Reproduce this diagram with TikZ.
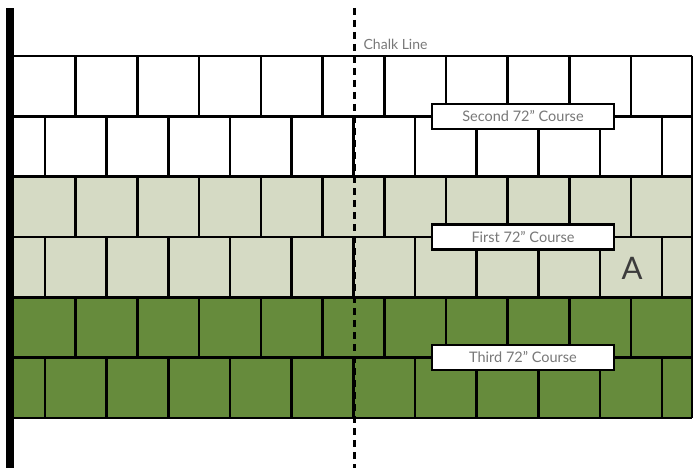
\documentclass[tikz,border=0pt]{standalone}
\usepackage{fontspec}
\setmainfont{Lato}
\usepackage{tikz}
\usetikzlibrary{calc, positioning}
\definecolor{sage}{RGB}{213,218,196}
\definecolor{moss}{RGB}{102,139,60}
\definecolor{labelgray}{RGB}{120,120,120}
\definecolor{agray}{RGB}{60,60,60}

\begin{document}
\begin{tikzpicture}[x=1pt, y=-1pt, line width=2.6pt,
    course/.style={draw=black, line width=2.8pt, fill=white, minimum width=182pt,
        minimum height=25pt, inner sep=0pt, text=labelgray, font=\fontsize{14.5}{16}\selectfont}]
    \useasboundingbox (0,0) rectangle (693,468);

    \coordinate (C1) at (354, 8);
    \coordinate (C2) at (354, 468);
    \coordinate (W1) at (6, 8);
    \coordinate (W2) at (14, 468);

    % the six rows of tiles
    \foreach \r/\c in {0/white, 1/white, 2/sage, 3/sage, 4/moss, 5/moss}
        \fill[\c] (14, 56+60.3*\r) rectangle (692, 56+60.3*\r+60.3);
    \foreach \r in {0,...,6}
        \draw (14, 56+60.3*\r) -- (692, 56+60.3*\r);
    \draw (692, 56) -- (692, 417.8);

    \foreach \r in {0, 2, 4}
        \foreach \k in {1,...,10}
            \draw (14+61.7*\k, 56+60.3*\r) -- ++(0, 60.3);
    \foreach \r in {1, 3, 5}
        \foreach \k in {0,...,10}
            \draw (44.85+61.7*\k, 56+60.3*\r) -- ++(0, 60.3);

    \fill[black] (W1) rectangle (W2);
    \draw[line width=3pt, dash pattern=on 7pt off 5pt] (C1) -- (C2);

    \node[anchor=west, text=labelgray, font=\fontsize{14}{16}\selectfont] (chalk) at (359, 44) {Chalk Line};
    \node[course] (second) at (523, 116.5) {Second 72\char34{} Course};
    \node[course] (first) at (523, 237) {First 72\char34{} Course};
    \node[course] (third) at (523, 357.5) {Third 72\char34{} Course};
    \node[text=agray, font=\fontsize{31}{31}\selectfont] (tileA) at (632, 268.5) {A};
\end{tikzpicture}
\end{document}
